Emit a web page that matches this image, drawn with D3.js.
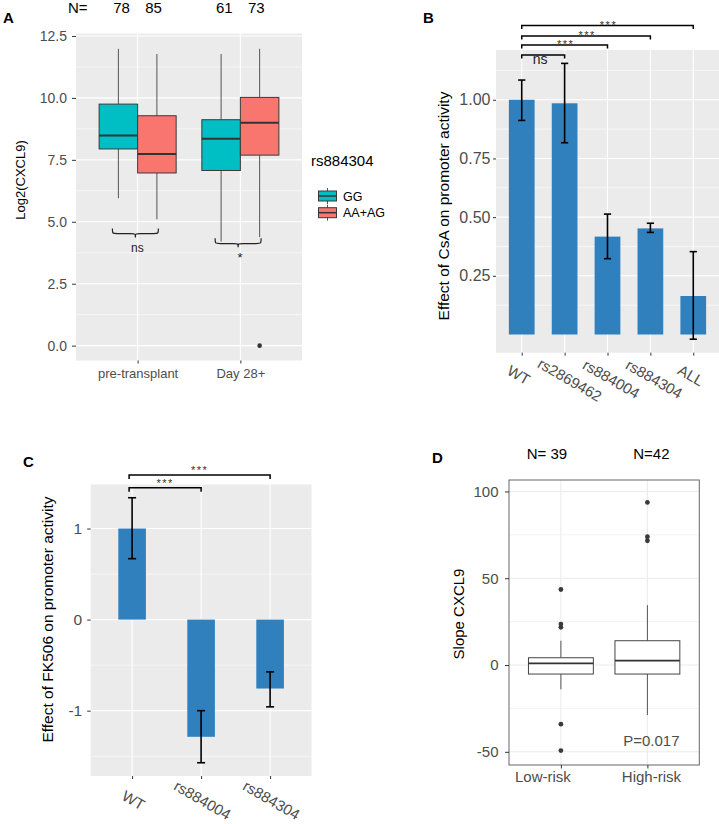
<!DOCTYPE html>
<html><head><meta charset="utf-8">
<script src="https://cdn.jsdelivr.net/npm/d3@7"></script>
<style>body{margin:0;background:#fff} svg{display:block}</style>
</head><body><svg id="fig" width="719" height="824"></svg>
<script>
// ================= DATA =================
// Panel A : boxplots of Log2(CXCL9) by time point and rs884304 genotype
const groupsA = ["pre-transplant", "Day 28+"];
const genotypesA = ["GG", "AA+AG"];
// order: pre/GG, pre/AA+AG, day28/GG, day28/AA+AG
const countsA = [78, 85, 61, 73];
const lowerWhiskerA = [5.95, 5.1, 4.2, 4.38];
const q1A = [7.94, 6.97, 7.07, 7.69];
const medianA = [8.48, 7.74, 8.35, 9.0];
const q3A = [9.75, 9.28, 9.12, 10.02];
const upperWhiskerA = [11.98, 11.77, 11.77, 11.98];
const outliersA = [{group: "Day 28+", genotype: "AA+AG", value: 0.0}];
const ticksA = [0, 2.5, 5, 7.5, 10, 12.5];
const signifA = ["ns", "*"];
const braceLevelA = [4.73, 4.33];

// Panel B : effect of CsA on promoter activity
const categoriesB = ["WT", "rs2869462", "rs884004", "rs884304", "ALL"];
const meansB = [1.0, 0.985, 0.417, 0.452, 0.164];
const lowerB = [0.912, 0.817, 0.323, 0.435, -0.02];
const upperB = [1.084, 1.155, 0.513, 0.474, 0.353];
const ticksB = [0.25, 0.5, 0.75, 1.0];
const compsB = [["WT", "rs2869462", "ns"], ["WT", "rs884004", "***"], ["WT", "rs884304", "***"], ["WT", "ALL", "***"]];
const bracketLevelB = [1.191, 1.233, 1.272, 1.316];

// Panel C : effect of FK506 on promoter activity
const categoriesC = ["WT", "rs884004", "rs884304"];
const meansC = [1.0, -1.287, -0.757];
const lowerC = [0.669, -1.572, -0.958];
const upperC = [1.338, -1.0, -0.574];
const ticksC = [-1, 0, 1];
const compsC = [["WT", "rs884004", "***"], ["WT", "rs884304", "***"]];
const bracketLevelC = [1.448, 1.588];

// Panel D : slope of CXCL9 by risk group
const groupsD = ["Low-risk", "High-risk"];
const nLabelsD = ["N= 39", "N=42"];
const lowerWhiskerD = [-14, -28.8];
const q1D = [-5.2, -5.2];
const medianD = [1.0, 2.5];
const q3D = [4.2, 14.0];
const upperWhiskerD = [14.0, 34.5];
const outliersD = [
  {group: "Low-risk", value: 43.5}, {group: "Low-risk", value: 23.6}, {group: "Low-risk", value: 21.7},
  {group: "Low-risk", value: -34.1}, {group: "Low-risk", value: -49.3},
  {group: "High-risk", value: 93.7}, {group: "High-risk", value: 73.9}, {group: "High-risk", value: 71.6}
];
const ticksD = [-50, 0, 50, 100];
const pValueD = "P=0.017";

// ================= DRAWING =================
const FONT = '"Liberation Sans", Arial, Helvetica, sans-serif';
const GREY_TXT = "#4D4D4D";
const fillA = {"GG": "#00BFC4", "AA+AG": "#F8766D"};
const BAR = "#3080BD";
const fmtSigned = f => d => (d < 0 ? "-" : "") + d3.format(f)(Math.abs(d));

const svg = d3.select("#fig").attr("font-family", FONT);
svg.append("rect").attr("width", 719).attr("height", 824).attr("fill", "#fff");

function minorsOf(majors) {
  const step = majors[1] - majors[0];
  const ext = [majors[0] - step, ...majors, majors[majors.length - 1] + step];
  const out = [];
  for (let i = 0; i < ext.length - 1; i++) out.push((ext[i] + ext[i + 1]) / 2);
  return out;
}

function panel(x0, x1, y, xs, majors, bg, gridCol) {
  const [y1, y0] = y.range();
  const g = svg.append("g");
  g.append("rect").attr("x", x0).attr("y", y0).attr("width", x1 - x0).attr("height", y1 - y0).attr("fill", bg);
  const inside = v => y(v) >= y0 && y(v) <= y1;
  minorsOf(majors).filter(inside).forEach(v =>
    g.append("line").attr("x1", x0).attr("x2", x1).attr("y1", y(v)).attr("y2", y(v)).attr("stroke", gridCol).attr("stroke-width", 0.6));
  majors.filter(inside).forEach(v =>
    g.append("line").attr("x1", x0).attr("x2", x1).attr("y1", y(v)).attr("y2", y(v)).attr("stroke", gridCol).attr("stroke-width", 1.1));
  xs.forEach(x =>
    g.append("line").attr("x1", x).attr("x2", x).attr("y1", y0).attr("y2", y1).attr("stroke", gridCol).attr("stroke-width", 1.1));
  return g;
}

function styleAxis(g, size, color) {
  g.attr("font-family", FONT).attr("font-size", size);
  g.select(".domain").remove();
  g.selectAll(".tick line").attr("stroke", "#333").attr("stroke-width", 1);
  g.selectAll(".tick text").attr("fill", color);
}

function yTitle(x, y, text, size) {
  svg.append("text").attr("transform", `translate(${x},${y}) rotate(-90)`).attr("text-anchor", "middle")
    .attr("font-size", size).attr("fill", "#000").text(text);
}

function panelLetter(x, y, t) {
  svg.append("text").attr("x", x).attr("y", y).attr("font-size", 15).attr("font-weight", "bold").attr("fill", "#000").text(t);
}

// ---------- Panel A ----------
const xA = d3.scalePoint().domain(groupsA).range([76, 302]).padding(0.6);
const yA = d3.scaleLinear().domain([-0.6, 12.6]).range([360.5, 33.5]);
const dodgeA = d3.scaleBand().domain(genotypesA).range([-xA.step() * 0.375, xA.step() * 0.375]);
const bwA = dodgeA.bandwidth();
const centerA = (g, ge) => xA(g) + dodgeA(ge) + bwA / 2;

panel(76, 302, yA, groupsA.map(g => xA(g)), ticksA, "#EBEBEB", "#FFFFFF");

const rowsA = groupsA.flatMap((g, i) => genotypesA.map((ge, j) => ({g, ge, k: i * 2 + j})));
const gA = svg.append("g");
rowsA.forEach(r => {
  const cx = centerA(r.g, r.ge);
  gA.append("line").attr("x1", cx).attr("x2", cx).attr("y1", yA(q3A[r.k])).attr("y2", yA(upperWhiskerA[r.k])).attr("stroke", "#555").attr("stroke-width", 1);
  gA.append("line").attr("x1", cx).attr("x2", cx).attr("y1", yA(q1A[r.k])).attr("y2", yA(lowerWhiskerA[r.k])).attr("stroke", "#555").attr("stroke-width", 1);
  gA.append("rect").attr("x", cx - bwA / 2).attr("width", bwA).attr("y", yA(q3A[r.k])).attr("height", yA(q1A[r.k]) - yA(q3A[r.k]))
    .attr("fill", fillA[r.ge]).attr("stroke", "#3a3a3a").attr("stroke-width", 1);
  gA.append("line").attr("x1", cx - bwA / 2).attr("x2", cx + bwA / 2).attr("y1", yA(medianA[r.k])).attr("y2", yA(medianA[r.k])).attr("stroke", "#333").attr("stroke-width", 2);
});
outliersA.forEach(o => gA.append("circle").attr("cx", centerA(o.group, o.genotype)).attr("cy", yA(o.value)).attr("r", 2.3).attr("fill", "#333"));

// braces with significance
groupsA.forEach((g, i) => {
  const xL = centerA(g, "GG") - 6, xR = centerA(g, "AA+AG") + 1.5, xm = (xL + xR) / 2;
  const yT = yA(braceLevelA[i]), yL = yT + 5.2, yTip = yT + 9;
  const p = `M${xL},${yT} C${xL},${yL} ${xL},${yL} ${xL + 5},${yL} L${xm - 5},${yL} C${xm},${yL} ${xm},${yL} ${xm},${yTip} ` +
            `C${xm},${yL} ${xm},${yL} ${xm + 5},${yL} L${xR - 5},${yL} C${xR},${yL} ${xR},${yL} ${xR},${yT}`;
  svg.append("path").attr("d", p).attr("fill", "none").attr("stroke", "#222").attr("stroke-width", 1.2);
  svg.append("text").attr("x", xm + 2).attr("y", signifA[i] === "*" ? yT + 24 : yT + 23.5).attr("text-anchor", "middle")
    .attr("font-size", signifA[i] === "*" ? 13 : 12).attr("fill", "#222").text(signifA[i]);
});

const axYA = svg.append("g").attr("transform", "translate(76,0)")
  .call(d3.axisLeft(yA).tickValues(ticksA).tickSize(4).tickPadding(5).tickFormat(fmtSigned(".1f")));
styleAxis(axYA, 14, GREY_TXT);
const axXA = svg.append("g").attr("transform", "translate(0,360.5)")
  .call(d3.axisBottom(xA).tickSize(3).tickPadding(5));
styleAxis(axXA, 13, GREY_TXT);
yTitle(25, 180, "Log2(CXCL9)", 13);

// N= counts
svg.append("text").attr("x", 68).attr("y", 13).attr("font-size", 15).attr("fill", "#000").text("N=");
rowsA.forEach(r => {
  svg.append("text").attr("x", xA(r.g) + (r.ge === "GG" ? -16 : 16)).attr("y", 13).attr("text-anchor", "middle")
    .attr("font-size", 15).attr("fill", "#000").text(countsA[r.k]);
});

// legend
svg.append("text").attr("x", 311).attr("y", 166).attr("font-size", 15).attr("fill", "#000").text("rs884304");
genotypesA.forEach((ge, i) => {
  const cy = 196 + i * 16.7;
  svg.append("line").attr("x1", 327.5).attr("x2", 327.5).attr("y1", cy - 8).attr("y2", cy + 8).attr("stroke", "#555");
  svg.append("rect").attr("x", 318.5).attr("y", cy - 5).attr("width", 18).attr("height", 10).attr("fill", fillA[ge]).attr("stroke", "#3a3a3a");
  svg.append("line").attr("x1", 318.5).attr("x2", 336.5).attr("y1", cy).attr("y2", cy).attr("stroke", "#333").attr("stroke-width", 1.5);
  svg.append("text").attr("x", 343).attr("y", cy + 4.5).attr("font-size", 12.5).attr("fill", "#000").text(ge);
});
panelLetter(3, 23, "A");

// ---------- Panel B ----------
const xB = d3.scalePoint().domain(categoriesB).range([496, 719]).padding(0.6);
const yB = d3.scaleLinear().domain([-0.0775, 1.212]).range([352.7, 50]);
const barWB = xB.step() * 0.6;
panel(496, 719, yB, categoriesB.map(c => xB(c)), ticksB, "#EBEBEB", "#FFFFFF");
categoriesB.forEach((c, i) => {
  const v = meansB[i];
  svg.append("rect").attr("x", xB(c) - barWB / 2).attr("width", barWB)
    .attr("y", yB(Math.max(v, 0))).attr("height", Math.abs(yB(v) - yB(0))).attr("fill", BAR);
});
categoriesB.forEach((c, i) => {
  const x = xB(c), cw = 3.6;
  const eb = svg.append("g").attr("stroke", "#000").attr("stroke-width", 1.6);
  eb.append("line").attr("x1", x).attr("x2", x).attr("y1", yB(lowerB[i])).attr("y2", yB(upperB[i]));
  eb.append("line").attr("x1", x - cw).attr("x2", x + cw).attr("y1", yB(lowerB[i])).attr("y2", yB(lowerB[i]));
  eb.append("line").attr("x1", x - cw).attr("x2", x + cw).attr("y1", yB(upperB[i])).attr("y2", yB(upperB[i]));
});
const axYB = svg.append("g").attr("transform", "translate(496,0)")
  .call(d3.axisLeft(yB).tickValues(ticksB).tickSize(3).tickPadding(2.5).tickFormat(d3.format(".2f")));
styleAxis(axYB, 16, GREY_TXT);
const axXB = svg.append("g").attr("transform", "translate(0,352.7)")
  .call(d3.axisBottom(xB).tickSize(3).tickFormat(""));
styleAxis(axXB, 15, GREY_TXT);
categoriesB.forEach(c => {
  const t = svg.append("text").attr("font-size", 15).attr("fill", GREY_TXT).attr("text-anchor", "middle")
    .attr("dominant-baseline", "central").text(c);
  const w = t.node().getComputedTextLength();
  const a = Math.PI / 6;
  const cx = xB(c) + 0.2 * w * Math.cos(a) - 7, cy = 372.5 + 0.2 * w * Math.sin(a);
  t.attr("transform", `translate(${cx},${cy}) rotate(30)`);
});
yTitle(449, 206, "Effect of CsA on promoter activity", 15.5);

compsB.forEach((cmp, i) => {
  const x1 = xB(cmp[0]), x2 = xB(cmp[1]), y = yB(bracketLevelB[i]);
  svg.append("path").attr("d", `M${x1},${y + 3.5} L${x1},${y} L${x2},${y} L${x2},${y + 3.5}`)
    .attr("fill", "none").attr("stroke", "#000").attr("stroke-width", 1.5);
  if (cmp[2] === "ns") {
    svg.append("text").attr("x", (x1 + x2) / 2 - 3).attr("y", y + 9.5).attr("text-anchor", "middle")
      .attr("font-size", 14).attr("fill", "#222").text(cmp[2]);
  } else {
    svg.append("text").attr("x", (x1 + x2) / 2 + 1).attr("y", y + 3).attr("text-anchor", "middle")
      .attr("font-size", 11).attr("letter-spacing", 1.5).attr("fill", "#333").text(cmp[2]);
  }
});
panelLetter(423, 23, "B");

// ---------- Panel C ----------
const xC = d3.scalePoint().domain(categoriesC).range([90.7, 311.5]).padding(0.6);
const yC = d3.scaleLinear().domain([-1.7175, 1.4835]).range([776, 484.5]);
const barWC = xC.step() * 0.4;
panel(90.7, 311.5, yC, categoriesC.map(c => xC(c)), ticksC, "#EBEBEB", "#FFFFFF");
categoriesC.forEach((c, i) => {
  const v = meansC[i];
  svg.append("rect").attr("x", xC(c) - barWC / 2).attr("width", barWC)
    .attr("y", yC(Math.max(v, 0))).attr("height", Math.abs(yC(v) - yC(0))).attr("fill", BAR);
});
categoriesC.forEach((c, i) => {
  const x = xC(c), cw = 4;
  const eb = svg.append("g").attr("stroke", "#000").attr("stroke-width", 1.6);
  eb.append("line").attr("x1", x).attr("x2", x).attr("y1", yC(lowerC[i])).attr("y2", yC(upperC[i]));
  eb.append("line").attr("x1", x - cw).attr("x2", x + cw).attr("y1", yC(lowerC[i])).attr("y2", yC(lowerC[i]));
  eb.append("line").attr("x1", x - cw).attr("x2", x + cw).attr("y1", yC(upperC[i])).attr("y2", yC(upperC[i]));
});
const axYC = svg.append("g").attr("transform", "translate(90.7,0)")
  .call(d3.axisLeft(yC).tickValues(ticksC).tickSize(3.5).tickPadding(5).tickFormat(fmtSigned("d")));
styleAxis(axYC, 15.5, GREY_TXT);
const axXC = svg.append("g").attr("transform", "translate(0,776)")
  .call(d3.axisBottom(xC).tickSize(3).tickFormat(""));
styleAxis(axXC, 15, GREY_TXT);
categoriesC.forEach(c => {
  svg.append("text").attr("font-size", 15).attr("fill", GREY_TXT).attr("text-anchor", "middle")
    .attr("dominant-baseline", "central").attr("transform", `translate(${xC(c) + 1.5},800) rotate(30)`).text(c);
});
yTitle(53, 619.5, "Effect of FK506 on promoter activity", 15.5);
compsC.forEach((cmp, i) => {
  const x1 = xC(cmp[0]) - 3, x2 = xC(cmp[1]), y = yC(bracketLevelC[i]);
  svg.append("path").attr("d", `M${x1},${y + 4} L${x1},${y} L${x2},${y} L${x2},${y + 4}`)
    .attr("fill", "none").attr("stroke", "#000").attr("stroke-width", 1.5);
  svg.append("text").attr("x", (x1 + x2) / 2).attr("y", y - 0.5).attr("text-anchor", "middle")
    .attr("font-size", 11).attr("letter-spacing", 1.5).attr("fill", "#333").text(cmp[2]);
});
panelLetter(23, 466.7, "C");

// ---------- Panel D ----------
const xD = d3.scalePoint().domain(groupsD).range([509, 699.3]).padding(0.6);
const yD = d3.scaleLinear().domain([-57.6, 106.6]).range([765, 480]);
const bwD = xD.step() * 0.75;
panel(509, 699.3, yD, groupsD.map(g => xD(g)), ticksD, "#FFFFFF", "#EBEBEB");
groupsD.forEach((g, i) => {
  const cx = xD(g);
  svg.append("line").attr("x1", cx).attr("x2", cx).attr("y1", yD(q3D[i])).attr("y2", yD(upperWhiskerD[i])).attr("stroke", "#555");
  svg.append("line").attr("x1", cx).attr("x2", cx).attr("y1", yD(q1D[i])).attr("y2", yD(lowerWhiskerD[i])).attr("stroke", "#555");
  svg.append("rect").attr("x", cx - bwD / 2).attr("width", bwD).attr("y", yD(q3D[i])).attr("height", yD(q1D[i]) - yD(q3D[i]))
    .attr("fill", "#fff").attr("stroke", "#444").attr("stroke-width", 1);
  svg.append("line").attr("x1", cx - bwD / 2).attr("x2", cx + bwD / 2).attr("y1", yD(medianD[i])).attr("y2", yD(medianD[i])).attr("stroke", "#333").attr("stroke-width", 1.8);
});
outliersD.forEach(o => svg.append("circle").attr("cx", xD(o.group)).attr("cy", yD(o.value)).attr("r", 2.4).attr("fill", "#3a3a3a"));
svg.append("rect").attr("x", 509).attr("y", 480).attr("width", 190.3).attr("height", 285).attr("fill", "none").attr("stroke", "#666").attr("stroke-width", 1);
const axYD = svg.append("g").attr("transform", "translate(509,0)")
  .call(d3.axisLeft(yD).tickValues(ticksD).tickSize(4).tickPadding(6.5).tickFormat(fmtSigned("d")));
styleAxis(axYD, 15, GREY_TXT);
const axXD = svg.append("g").attr("transform", "translate(0,765)")
  .call(d3.axisBottom(xD).tickSize(3.5).tickFormat(""));
styleAxis(axXD, 15, GREY_TXT);
const nudgeD = [-18, 4];
groupsD.forEach((g, i) => {
  svg.append("text").attr("x", xD(g) + nudgeD[i]).attr("y", 782).attr("text-anchor", "middle")
    .attr("font-size", 15).attr("fill", GREY_TXT).text(g);
  svg.append("text").attr("x", xD(g) + (i === 0 ? -14 : 4)).attr("y", 458.7).attr("text-anchor", "middle")
    .attr("font-size", 15).attr("fill", "#000").text(nLabelsD[i]);
});
svg.append("text").attr("x", xD("High-risk") + 4).attr("y", 746).attr("text-anchor", "middle")
  .attr("font-size", 15).attr("fill", GREY_TXT).text(pValueD);
yTitle(464.3, 614, "Slope CXCL9", 15);
panelLetter(432, 462.7, "D");
</script>
</body></html>
